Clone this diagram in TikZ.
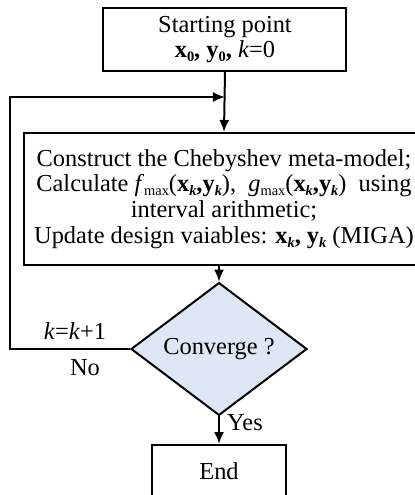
\documentclass[tikz,border=0pt]{standalone}
\usepackage{fontspec}
\setmainfont{Liberation Serif}
\usetikzlibrary{arrows.meta,shapes.geometric,positioning}
\definecolor{diafill}{RGB}{222,231,245}

\newcommand{\lowidx}[1]{\raisebox{-1.8pt}{\fontsize{7.2}{7.2}\selectfont #1}}
\newcommand{\bx}[1]{\textbf{x}\lowidx{#1}}
\newcommand{\by}[1]{\textbf{y}\lowidx{#1}}

\begin{document}
\begin{tikzpicture}[x=0.5pt,y=-0.5pt,>={Latex[length=6pt,width=5pt]},line width=1pt]
      \tikzset{
	  box/.style={draw, rectangle, inner sep=0pt, align=center, font=\fontsize{12.2}{12.9}\selectfont},
	  test/.style={draw, diamond, fill=diafill, inner sep=0pt, minimum width=88pt, minimum height=52.5pt, font=\fontsize{12.2}{12.9}\selectfont},
	  lbl/.style={inner sep=0pt, font=\fontsize{12.2}{12.9}\selectfont}
      }
      \useasboundingbox (0,0) rectangle (415,495);

      %-----boxes of the flow
      \node[box, minimum width=121.5pt, minimum height=31.5pt] (start) at (225,39.5)
	{Starting point\\ \bx{\textbf{0}}\textbf{,} \by{\textbf{0}}\textbf{,} \textit{k}=0};
      \node[box, minimum width=200pt, minimum height=66pt] (model) at (224,199)
	{Construct the Chebyshev meta-model;\\
	Calculate \textit{f}\lowidx{max}(\bx{\textbf{\textit{k}}}\textbf{,}\by{\textbf{\textit{k}}}),\enspace\textit{g}\lowidx{max}(\bx{\textbf{\textit{k}}}\textbf{,}\by{\textbf{\textit{k}}})\enspace using\\
	interval arithmetic;\\
	Update design vaiables: \bx{\textbf{\textit{k}}}\textbf{,} \by{\textbf{\textit{k}}} (MIGA)};
      \node[test] (conv) at (219,349) {Converge ?};
      \node[box, minimum width=67pt, minimum height=26pt] (stop) at (219,471) {End};

      %-----loop back
      \coordinate (back) at (10,97);
      \coordinate (join) at (start.south |- back);

      \draw[->] (start.south) -- (model.north);
      \draw[->] (conv.north |- model.south) -- (conv.north);
      \draw[->] (conv.south) -- (stop.north);
      \draw[->] (conv.west) -- (conv.west -| back) -- (back) -- (join);

      \node[lbl] (inc) at (75,331) {\textit{k}=\textit{k}+1};
      \node[lbl] (no) at (85,368) {No};
      \node[lbl] (yes) at (245,423) {Yes};
\end{tikzpicture}
\end{document}
